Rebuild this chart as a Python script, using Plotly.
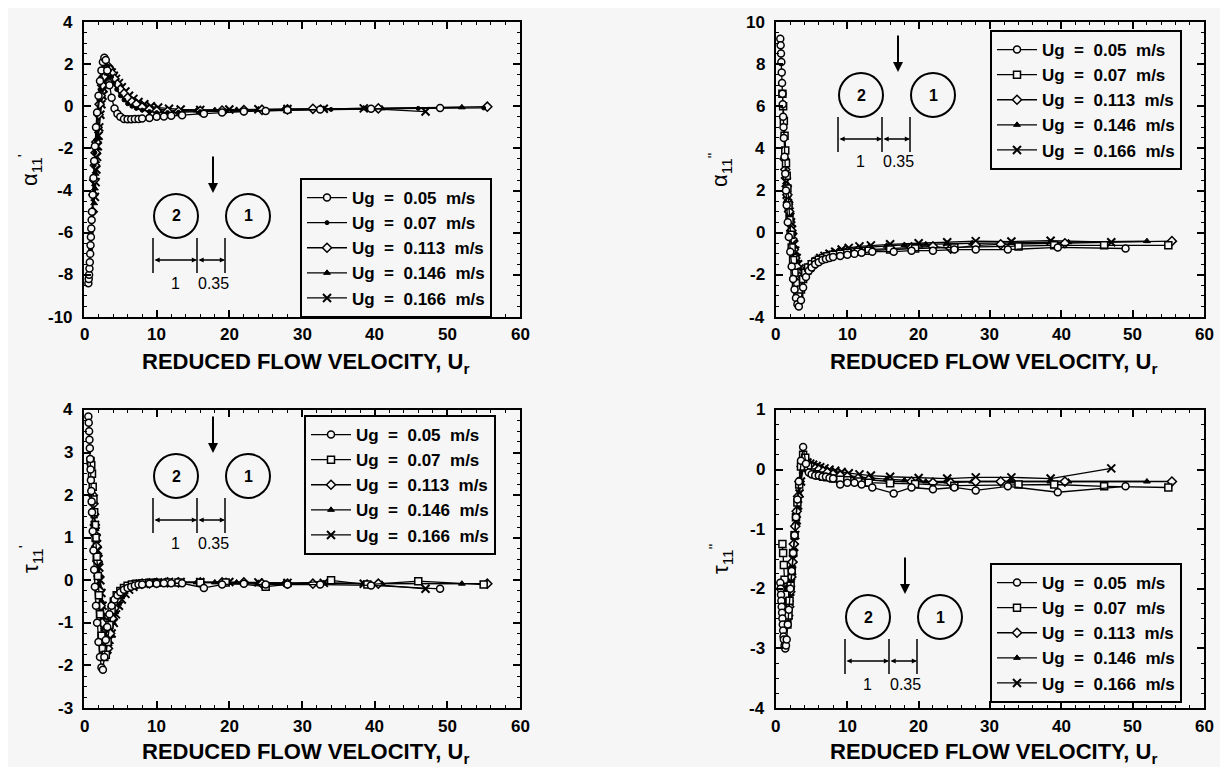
import plotly.graph_objects as go

# ---------------- data ----------------
series_names = ["Ug = 0.05 m/s", "Ug = 0.07 m/s", "Ug = 0.113 m/s", "Ug = 0.146 m/s", "Ug = 0.166 m/s"]

ur_005 = [0.6, 0.65, 0.7, 0.75, 0.8, 0.85, 0.9, 0.95, 1.0, 1.05, 1.1, 1.2, 1.3, 1.4, 1.5, 1.65, 1.8, 2.0,
          2.2, 2.4, 2.6, 2.8, 3.0, 3.2, 3.5, 3.8, 4.2, 4.6, 5.0, 5.5, 6.0, 6.5, 7.0, 7.5, 8.0, 9.0, 10.0,
          11.0, 12.0, 13.5, 16.5, 19.0, 22.0, 25.0, 28.0, 32.5, 39.5, 49.0]
ur_007 = [0.9, 1.0, 1.1, 1.2, 1.3, 1.4, 1.5, 1.6, 1.75, 1.9, 2.05, 2.2, 2.4, 2.6, 2.8, 3.0, 3.25, 3.5, 3.8,
          4.1, 4.5, 5.0, 5.5, 6.0, 6.6, 7.2, 8.0, 9.0, 10.0, 11.5, 13.0, 16.0, 19.5, 25.0, 34.0, 39.0, 46.0, 55.0]
ur_0113 = [1.2, 1.3, 1.4, 1.5, 1.6, 1.7, 1.85, 2.0, 2.15, 2.3, 2.5, 2.7, 2.9, 3.1, 3.3, 3.6, 3.9, 4.2, 4.6,
           5.0, 5.5, 6.0, 6.6, 7.2, 8.0, 9.0, 10.0, 11.5, 13.0, 16.0, 19.0, 22.0, 24.5, 28.0, 31.5, 40.5, 55.5]
ur_0146 = [1.4, 1.5, 1.6, 1.7, 1.8, 1.9, 2.0, 2.15, 2.3, 2.45, 2.6, 2.8, 3.0, 3.2, 3.4, 3.7, 4.0, 4.3, 4.7,
           5.1, 5.6, 6.1, 6.7, 7.3, 8.1, 9.0, 10.0, 11.5, 13.0, 15.5, 18.0, 21.0, 24.0, 27.5, 33.0, 38.5, 41.0, 52.0]
ur_0166 = [1.5, 1.6, 1.7, 1.8, 1.9, 2.0, 2.1, 2.25, 2.4, 2.55, 2.7, 2.9, 3.1, 3.3, 3.5, 3.8, 4.1, 4.4, 4.8,
           5.2, 5.7, 6.2, 6.8, 7.5, 8.3, 9.2, 10.2, 11.7, 13.3, 16.0, 20.0, 24.0, 28.0, 33.0, 38.5, 47.0]

# alpha'_11 (top-left)
a1_005 = [-8.4, -8.2, -8.0, -7.7, -7.4, -7.0, -6.6, -6.2, -5.8, -5.4, -5.0, -4.2, -3.4, -2.6, -1.9, -1.0, -0.3, 0.5,
          1.2, 1.7, 2.1, 2.3, 2.2, 1.7, 1.0, 0.4, -0.1, -0.35, -0.5, -0.6, -0.62, -0.62, -0.6, -0.6, -0.58, -0.55, -0.5,
          -0.48, -0.45, -0.42, -0.35, -0.3, -0.25, -0.22, -0.18, -0.15, -0.12, -0.08]
a1_007 = [-6.8, -6.0, -5.0, -4.2, -3.5, -2.8, -2.2, -1.6, -0.9, -0.3, 0.3, 0.8, 1.3, 1.7, 2.0, 2.1, 1.9, 1.7, 1.4,
          1.1, 0.8, 0.5, 0.3, 0.12, 0.0, -0.1, -0.18, -0.25, -0.3, -0.3, -0.28, -0.25, -0.22, -0.2, -0.15, -0.12, -0.1, -0.08]
a1_0113 = [-5.0, -4.2, -3.5, -2.8, -2.2, -1.7, -1.0, -0.4, 0.1, 0.5, 1.0, 1.4, 1.7, 1.9, 1.9, 1.75, 1.55, 1.3, 1.05,
           0.8, 0.6, 0.4, 0.22, 0.1, -0.05, -0.15, -0.22, -0.25, -0.25, -0.22, -0.2, -0.18, -0.17, -0.15, -0.12, -0.1, -0.02]
a1_0146 = [-4.6, -3.9, -3.2, -2.6, -2.0, -1.5, -1.0, -0.4, 0.1, 0.5, 0.9, 1.3, 1.6, 1.8, 1.8, 1.65, 1.45, 1.25, 1.0,
           0.8, 0.6, 0.45, 0.3, 0.18, 0.05, -0.05, -0.12, -0.18, -0.2, -0.2, -0.18, -0.17, -0.15, -0.14, -0.12, -0.1, -0.1, -0.05]
a1_0166 = [-4.3, -3.6, -3.0, -2.4, -1.9, -1.4, -1.0, -0.4, 0.1, 0.5, 0.85, 1.2, 1.5, 1.65, 1.7, 1.6, 1.45, 1.3, 1.1,
           0.9, 0.7, 0.5, 0.35, 0.2, 0.1, 0.0, -0.06, -0.12, -0.15, -0.17, -0.15, -0.14, -0.13, -0.12, -0.1, -0.25]

# alpha''_11 (top-right)
a2_005 = [9.2, 8.9, 8.5, 8.1, 7.6, 7.1, 6.6, 6.1, 5.5, 5.0, 4.5, 3.6, 2.8, 2.0, 1.3, 0.5, -0.2, -0.9,
          -1.6, -2.2, -2.7, -3.1, -3.4, -3.5, -3.2, -2.6, -2.1, -1.8, -1.65, -1.5, -1.4, -1.3, -1.25, -1.2, -1.15, -1.1, -1.05,
          -1.0, -0.95, -0.9, -0.9, -0.85, -0.85, -0.8, -0.8, -0.8, -0.7, -0.75]
a2_007 = [6.6, 6.0, 5.3, 4.6, 3.9, 3.3, 2.7, 2.1, 1.3, 0.6, -0.1, -0.7, -1.3, -1.9, -2.4, -2.8, -3.0, -2.7, -2.2,
          -1.9, -1.65, -1.5, -1.38, -1.28, -1.2, -1.12, -1.05, -1.0, -0.95, -0.9, -0.85, -0.8, -0.75, -0.7, -0.65, -0.6, -0.6, -0.6]
a2_0113 = [3.5, 3.0, 2.6, 2.2, 1.8, 1.45, 1.0, 0.5, 0.1, -0.3, -0.8, -1.2, -1.6, -1.9, -2.1, -2.2, -2.1, -1.9, -1.7,
           -1.55, -1.4, -1.3, -1.2, -1.1, -1.0, -0.95, -0.9, -0.85, -0.8, -0.75, -0.7, -0.65, -0.75, -0.6, -0.55, -0.5, -0.4]
a2_0146 = [2.4, 2.1, 1.8, 1.5, 1.2, 0.9, 0.6, 0.2, -0.2, -0.6, -0.95, -1.3, -1.6, -1.8, -1.95, -2.0, -1.9, -1.75, -1.6,
           -1.45, -1.3, -1.2, -1.1, -1.0, -0.92, -0.85, -0.8, -0.72, -0.68, -0.62, -0.58, -0.55, -0.52, -0.5, -0.48, -0.45, -0.45, -0.4]
a2_0166 = [1.8, 1.6, 1.4, 1.2, 1.0, 0.75, 0.5, 0.15, -0.2, -0.55, -0.85, -1.2, -1.5, -1.7, -1.85, -1.95, -1.9, -1.8, -1.65,
           -1.5, -1.35, -1.2, -1.1, -1.0, -0.9, -0.8, -0.72, -0.65, -0.6, -0.55, -0.5, -0.45, -0.4, -0.42, -0.38, -0.45]

# tau'_11 (bottom-left)
t1_005 = [3.85, 3.7, 3.5, 3.3, 3.1, 2.85, 2.6, 2.35, 2.1, 1.85, 1.6, 1.15, 0.7, 0.25, -0.15, -0.6, -1.0, -1.45,
          -1.8, -2.05, -2.1, -1.8, -1.4, -1.1, -0.8, -0.6, -0.45, -0.35, -0.28, -0.22, -0.18, -0.15, -0.12, -0.1, -0.1, -0.08, -0.08,
          -0.07, -0.07, -0.07, -0.18, -0.1, -0.08, -0.1, -0.1, -0.1, -0.12, -0.2]
t1_007 = [2.8, 2.7, 2.5, 2.2, 1.9, 1.6, 1.3, 1.0, 0.55, 0.1, -0.35, -0.8, -1.3, -1.6, -1.8, -1.75, -1.45, -1.05, -0.7,
          -0.5, -0.35, -0.25, -0.18, -0.13, -0.1, -0.08, -0.07, -0.06, -0.06, -0.05, -0.05, -0.06, -0.05, -0.15, 0.0, -0.1, -0.02, -0.1]
t1_0113 = [2.0, 1.8, 1.55, 1.3, 1.05, 0.8, 0.45, 0.1, -0.25, -0.6, -1.0, -1.35, -1.6, -1.7, -1.6, -1.25, -0.9, -0.65, -0.45,
           -0.32, -0.22, -0.16, -0.12, -0.1, -0.08, -0.07, -0.06, -0.05, -0.05, -0.05, -0.05, -0.05, -0.08, -0.08, -0.08, -0.08, -0.08]
t1_0146 = [1.5, 1.35, 1.2, 1.0, 0.8, 0.6, 0.4, 0.1, -0.2, -0.5, -0.8, -1.1, -1.35, -1.5, -1.5, -1.3, -1.0, -0.75, -0.55,
           -0.4, -0.28, -0.2, -0.14, -0.1, -0.08, -0.07, -0.06, -0.05, -0.05, -0.05, -0.05, -0.05, -0.06, -0.07, -0.07, -0.07, -0.08, -0.08]
t1_0166 = [1.3, 1.15, 1.0, 0.85, 0.7, 0.5, 0.3, 0.0, -0.3, -0.6, -0.85, -1.1, -1.3, -1.4, -1.4, -1.25, -1.0, -0.8, -0.6,
           -0.45, -0.32, -0.22, -0.15, -0.1, -0.08, -0.06, -0.05, -0.04, -0.04, -0.04, -0.04, -0.05, -0.06, -0.06, -0.08, -0.2]

# tau''_11 (bottom-right)
t2_005 = [-1.9, -2.0, -2.1, -2.2, -2.3, -2.4, -2.5, -2.6, -2.7, -2.8, -2.85, -2.95, -3.0, -2.95, -2.85, -2.6, -2.35, -2.0,
          -1.7, -1.4, -1.1, -0.8, -0.5, -0.2, 0.15, 0.38, 0.1, -0.05, -0.08, -0.1, -0.1, -0.12, -0.12, -0.14, -0.15, -0.25, -0.22,
          -0.22, -0.25, -0.3, -0.4, -0.3, -0.33, -0.3, -0.35, -0.28, -0.38, -0.28]
t2_007 = [-1.25, -1.4, -1.6, -1.85, -2.1, -2.35, -2.5, -2.6, -2.45, -2.2, -1.95, -1.7, -1.4, -1.1, -0.8, -0.55, -0.25, 0.05, 0.25,
          0.2, 0.05, -0.05, -0.08, -0.1, -0.12, -0.13, -0.15, -0.17, -0.18, -0.2, -0.22, -0.23, -0.24, -0.27, -0.25, -0.25, -0.28, -0.3]
t2_0113 = [-1.9, -2.1, -2.3, -2.45, -2.5, -2.45, -2.3, -2.05, -1.8, -1.55, -1.25, -0.95, -0.7, -0.45, -0.2, 0.05, 0.2, 0.15, 0.08,
           0.05, 0.02, 0.0, -0.03, -0.05, -0.08, -0.1, -0.12, -0.15, -0.17, -0.2, -0.2, -0.22, -0.22, -0.2, -0.2, -0.2, -0.2]
t2_0146 = [-2.0, -2.15, -2.3, -2.35, -2.3, -2.2, -2.05, -1.85, -1.6, -1.4, -1.15, -0.9, -0.65, -0.4, -0.2, 0.0, 0.12, 0.15, 0.1,
           0.08, 0.05, 0.03, 0.0, -0.02, -0.05, -0.07, -0.1, -0.12, -0.14, -0.16, -0.18, -0.2, -0.2, -0.2, -0.2, -0.2, -0.2, -0.2]
t2_0166 = [-1.9, -2.05, -2.15, -2.2, -2.15, -2.05, -1.9, -1.7, -1.5, -1.3, -1.1, -0.85, -0.6, -0.4, -0.2, 0.0, 0.1, 0.12, 0.1,
           0.08, 0.06, 0.04, 0.02, 0.0, -0.02, -0.04, -0.06, -0.08, -0.1, -0.12, -0.14, -0.15, -0.13, -0.13, -0.15, 0.02]

# tick values
x_ticks = [0, 10, 20, 30, 40, 50, 60]
y_ticks_a1 = [-10, -8, -6, -4, -2, 0, 2, 4]
y_ticks_a2 = [-4, -2, 0, 2, 4, 6, 8, 10]
y_ticks_t1 = [-3, -2, -1, 0, 1, 2, 3, 4]
y_ticks_t2 = [-4, -3, -2, -1, 0, 1]

# ---------------- figure ----------------
W, H = 1228, 767
BG = "#f6f6f6"
FONT = "Liberation Sans, Arial, Helvetica, sans-serif"
NARROW = "Liberation Sans Narrow, Liberation Sans, Arial, sans-serif"


def px(x):
    return x / W


def py(y):
    return 1 - y / H


def spaced(s):
    # the scanned legend uses wide word spacing
    return s.replace(" ", " \u00a0")


fig = go.Figure()

ur_all = [ur_005, ur_007, ur_0113, ur_0146, ur_0166]
panels = [
    dict(vals=[a1_005, a1_007, a1_0113, a1_0146, a1_0166], xa="x", ya="y", leg="legend", dot07=True),
    dict(vals=[a2_005, a2_007, a2_0113, a2_0146, a2_0166], xa="x2", ya="y2", leg="legend2", dot07=False),
    dict(vals=[t1_005, t1_007, t1_0113, t1_0146, t1_0166], xa="x3", ya="y3", leg="legend3", dot07=False),
    dict(vals=[t2_005, t2_007, t2_0113, t2_0146, t2_0166], xa="x4", ya="y4", leg="legend4", dot07=False),
]


def marker_for(i, dot07):
    if i == 0:
        return dict(symbol="circle", size=7, color=BG, line=dict(color="black", width=1.5))
    if i == 1:
        if dot07:
            return dict(symbol="circle", size=4, color="black", line=dict(color="black", width=1))
        return dict(symbol="square", size=7, color=BG, line=dict(color="black", width=1.5))
    if i == 2:
        return dict(symbol="diamond", size=7, color=BG, line=dict(color="black", width=1.5))
    if i == 3:
        return dict(symbol="triangle-up", size=6, color="black", line=dict(color="black", width=1))
    return dict(symbol="x-thin", size=8, color="black", line=dict(color="black", width=2))


for p in panels:
    for i in [4, 3, 2, 1, 0]:
        ur = ur_all[i]
        vals = p["vals"][i]
        assert len(ur) == len(vals)
        fig.add_trace(go.Scatter(
            x=ur, y=vals, mode="lines+markers", name=spaced(series_names[i]),
            line=dict(color="black", width=1.3), marker=marker_for(i, p["dot07"]),
            xaxis=p["xa"], yaxis=p["ya"], legend=p["leg"], legendrank=i + 1,
        ))


def xax(dom, anchor):
    return dict(domain=dom, anchor=anchor, range=[0, 60], tickmode="array", tickvals=x_ticks,
                showticklabels=False, ticks="inside", ticklen=7,
                tickwidth=1.5, tickcolor="black", minor=dict(dtick=2, ticks="inside", ticklen=3, tickwidth=1,
                                                            tickcolor="black"),
                showline=True, linewidth=2, linecolor="black", mirror="allticks", showgrid=False,
                zeroline=False, automargin=False)


def yax(dom, anchor, rng, tv, mdt):
    return dict(domain=dom, anchor=anchor, range=rng, tickmode="array", tickvals=tv, showticklabels=False,
                ticks="inside", ticklen=7, tickwidth=1.5,
                tickcolor="black", minor=dict(dtick=mdt, ticks="inside", ticklen=3, tickwidth=1, tickcolor="black"),
                showline=True, linewidth=2, linecolor="black", mirror="allticks", showgrid=False,
                zeroline=False, automargin=False)


LXpx = (76, 512)
RXpx = (768, 1196)
TYpx = (14, 309)
BYpx = (402, 700)
LX = [px(LXpx[0]), px(LXpx[1])]
RX = [px(RXpx[0]), px(RXpx[1])]
TY = [py(TYpx[1]), py(TYpx[0])]
BY = [py(BYpx[1]), py(BYpx[0])]

legfont = dict(family=FONT, size=17, color="black", weight="bold")


def leg(x, y):
    return dict(x=x, y=y, xanchor="left", yanchor="top", bgcolor=BG, bordercolor="black", borderwidth=2,
                font=legfont, itemwidth=40, tracegroupgap=0, itemclick=False)


fig.update_layout(
    width=W, height=H, margin=dict(l=0, r=0, t=0, b=0),
    paper_bgcolor=BG, plot_bgcolor=BG,
    xaxis=xax(LX, "y"), yaxis=yax(TY, "x", [-10, 4], y_ticks_a1, 0.5),
    xaxis2=xax(RX, "y2"), yaxis2=yax(TY, "x2", [-4, 10], y_ticks_a2, 0.5),
    xaxis3=xax(LX, "y3"), yaxis3=yax(BY, "x3", [-3, 4], y_ticks_t1, 0.25),
    xaxis4=xax(RX, "y4"), yaxis4=yax(BY, "x4", [-4, 1], y_ticks_t2, 0.25),
    legend=leg(px(292), py(170)),
    legend2=leg(px(982), py(22)),
    legend3=leg(px(296), py(407)),
    legend4=leg(px(982), py(555)),
    showlegend=True,
)

ann = []
shapes = []
TICKFONT = dict(family=FONT, size=17, color="black", weight="bold")


def txt(x, y, text, size, family=FONT, angle=0, weight="normal"):
    ann.append(dict(x=px(x), y=py(y), xref="paper", yref="paper", text=text, showarrow=False,
                    textangle=angle, xanchor="center", yanchor="middle",
                    font=dict(family=family, size=size, color="black", weight=weight)))


# tick labels (bold, drawn at the axis tick positions)
axis_sets = [("x", "y", LXpx, TYpx, y_ticks_a1), ("x2", "y2", RXpx, TYpx, y_ticks_a2),
             ("x3", "y3", LXpx, BYpx, y_ticks_t1), ("x4", "y4", RXpx, BYpx, y_ticks_t2)]
for xa, ya, xpx, ypx, yt in axis_sets:
    for v in x_ticks:
        ann.append(dict(x=v, y=py(ypx[1] + 18), xref=xa, yref="paper", text=str(v), showarrow=False,
                        xanchor="center", yanchor="middle", font=TICKFONT))
    for v in yt:
        ann.append(dict(x=px(xpx[0] - 9), y=v, xref="paper", yref=ya, text=str(v), showarrow=False,
                        xanchor="right", yanchor="middle", font=TICKFONT))

# axis titles
xtitle = "REDUCED FLOW VELOCITY, U<sub>r</sub>"
for cx, cy in [(297, 355), (985, 355), (297, 745), (985, 745)]:
    txt(cx, cy, xtitle, 22, NARROW, weight="bold")

for t, cx, cy in [("α<sub>11</sub><sup>'</sup>", 22, 162), ("α<sub>11</sub><sup>\"</sup>", 712, 162),
                  ("τ<sub>11</sub><sup>'</sup>", 22, 551), ("τ<sub>11</sub><sup>\"</sup>", 712, 551)]:
    txt(cx, cy, t, 22, FONT, -90)


def inset(cx, cy):
    r = 22
    for ccx in (cx, cx + 72):
        shapes.append(dict(type="circle", xref="paper", yref="paper", x0=px(ccx - r), x1=px(ccx + r),
                           y0=py(cy + r), y1=py(cy - r), line=dict(color="black", width=2)))
    txt(cx, cy, "2", 16, weight="bold")
    txt(cx + 72, cy, "1", 16, weight="bold")
    # flow arrow
    ann.append(dict(x=px(cx + 37), y=py(cy - 23), xref="paper", yref="paper", text="", showarrow=True,
                    ax=0, ay=-38, arrowhead=2, arrowsize=1, arrowwidth=2, arrowcolor="black"))
    # dimension bars
    for bx in (cx - 23, cx + 21, cx + 49):
        shapes.append(dict(type="line", xref="paper", yref="paper", x0=px(bx), x1=px(bx), y0=py(cy + 22),
                           y1=py(cy + 57), line=dict(color="black", width=1.5)))
    ann.append(dict(x=px(cx + 21), y=py(cy + 44), xref="paper", yref="paper", text="", showarrow=True,
                    ax=-44, ay=0, arrowhead=2, arrowside="end+start", arrowsize=0.8, arrowwidth=1.3,
                    arrowcolor="black", standoff=0, startstandoff=0))
    ann.append(dict(x=px(cx + 49), y=py(cy + 44), xref="paper", yref="paper", text="", showarrow=True,
                    ax=-28, ay=0, arrowhead=2, arrowside="end+start", arrowsize=0.8, arrowwidth=1.3,
                    arrowcolor="black", standoff=0, startstandoff=0))
    txt(cx - 1, cy + 67, "1", 16)
    txt(cx + 37, cy + 67, "0.35", 16)


inset(168, 208)
inset(853, 87)
inset(168, 468)
inset(860, 609)

fig.update_layout(annotations=ann, shapes=shapes)

fig.write_html("out.html")
